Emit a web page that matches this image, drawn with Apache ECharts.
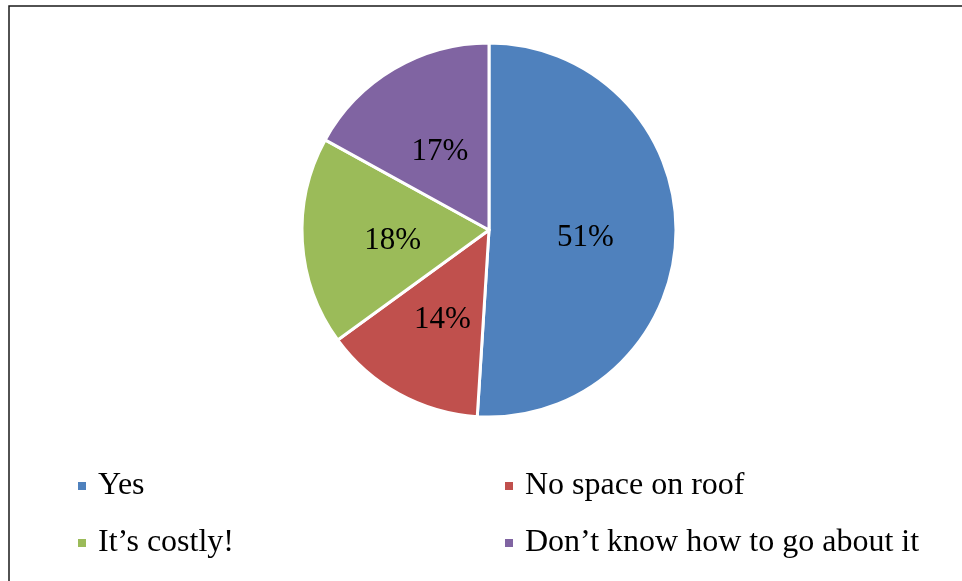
<!DOCTYPE html>
<html>
<head>
<meta charset="utf-8">
<script src="https://cdn.jsdelivr.net/npm/echarts@6/dist/echarts.min.js"></script>
<style>
html,body{margin:0;padding:0;background:#fff;}
#chart{width:962px;height:581px;}
</style>
</head>
<body>
<div id="chart"></div>
<script>
const categories = ["Yes", "No space on roof", "It\u2019s costly!", "Don\u2019t know how to go about it"];
const values = [51, 14, 18, 17];
const colors = ["#4F81BD", "#C0504D", "#9BBB59", "#8064A2"];

const chart = echarts.init(document.getElementById('chart'));
const font = "'Liberation Serif', 'Times New Roman', serif";
const legendCommon = {
  orient: 'vertical',
  itemWidth: 10,
  itemHeight: 10,
  itemGap: 25,
  icon: 'rect',
  selectedMode: false,
  textStyle: { fontFamily: font, fontSize: 32, color: '#000', padding: [0, 0, 0, 6] }
};
chart.setOption({
  animation: false,
  color: colors,
  graphic: [{
    type: 'rect',
    shape: { x: 9, y: 6, width: 1000, height: 700 },
    style: { fill: 'none', stroke: '#1a1a1a', lineWidth: 1.5 },
    silent: true
  }],
  legend: [
    Object.assign({ left: 71, top: 465, data: [categories[0], categories[2]] }, legendCommon),
    Object.assign({ left: 498, top: 465, data: [categories[1], categories[3]] }, legendCommon)
  ],
  series: [{
    type: 'pie',
    center: [489, 230],
    radius: [0, 187],
    startAngle: 90,
    clockwise: true,
    itemStyle: { borderColor: '#fff', borderWidth: 3 },
    label: {
      show: true,
      position: 'inside',
      formatter: '{p|{c}%}',
      rich: {
        p: {
          fontFamily: font,
          fontSize: 31,
          color: '#000',
          padding: [10, 0, 0, 0]
        }
      }
    },
    labelLine: { show: false },
    emphasis: { disabled: true },
    data: categories.map((c, i) => ({ name: c, value: values[i] }))
  }]
});
</script>
</body>
</html>
